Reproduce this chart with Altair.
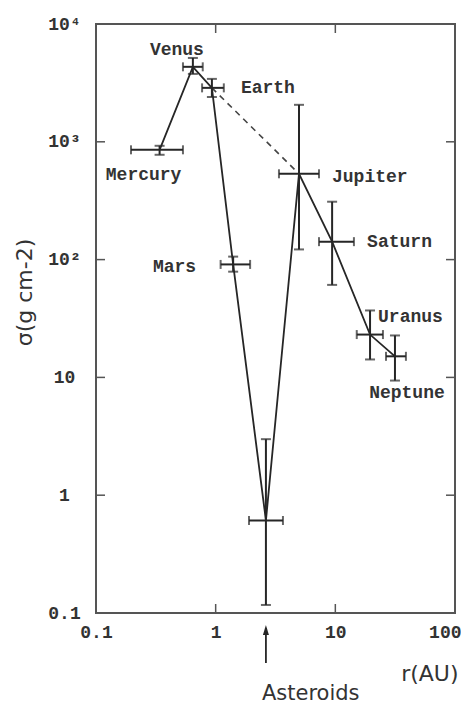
import altair as alt
import pandas as pd

# ---- data ----
NAMES = ["Mercury", "Venus", "Earth", "Mars", "Asteroids", "Jupiter", "Saturn", "Uranus", "Neptune"]
R = [0.34, 0.645, 0.93, 1.4, 2.63, 4.97, 9.4, 19.5, 31.5]
R_LO = [0.196, 0.533, 0.77, 1.1, 1.9, 3.38, 7.3, 15.1, 26.5]
R_HI = [0.533, 0.78, 1.17, 1.94, 3.65, 7.3, 14.3, 25.0, 38.9]
SIGMA = [855, 4330, 2870, 91, 0.61, 535, 142, 23.1, 15.1]
S_LO = [776, 3770, 2400, 79, 0.117, 122, 61, 14.2, 9.4]
S_HI = [925, 5150, 3420, 106, 2.99, 2060, 310, 37, 22.7]
DASHED = ["Earth", "Jupiter"]
X_TICKS = [0.1, 1, 10, 100]
Y_TICKS = [0.1, 1, 10, 100, 1000, 10000]
X_INNER = [1, 10]
Y_INNER = [1, 10, 100, 1000]

# ---- styles ----
W, H = 359, 589
INK = "#262626"
TXT = "#333333"
FR = "#555555"
MONO = "Liberation Mono"
SANS = "DejaVu Sans"
LABEL_STYLE = {
    "Mercury": (-16, 25, "center"),
    "Venus": (-16, -17, "center"),
    "Earth": (29, 0, "left"),
    "Mars": (-37, 3, "right"),
    "Jupiter": (33, 3, "left"),
    "Saturn": (35, 0, "left"),
    "Uranus": (8, -18, "left"),
    "Neptune": (12, 37, "center"),
}

df = pd.DataFrame({"name": NAMES, "r": R, "r_lo": R_LO, "r_hi": R_HI,
                   "sigma": SIGMA, "s_lo": S_LO, "s_hi": S_HI})
xs = alt.Scale(type="log", domain=[0.1, 100], nice=False)
ys = alt.Scale(type="log", domain=[0.1, 10000], nice=False)

y_label_expr = ("datum.value == 10000 ? '10⁴' : datum.value == 1000 ? '10³' : "
                "datum.value == 100 ? '10²' : datum.value == 10 ? '10' : "
                "datum.value == 1 ? '1' : '0.1'")

XAX = alt.Axis(
    values=X_TICKS, format="~g", ticks=False, domain=False, grid=False,
    labelFont=MONO, labelFontSize=18, labelFontWeight="bold", labelColor=TXT,
    labelPadding=10, labelFlush=False,
    labelAlign={"condition": {"test": "datum.value >= 100", "value": "right"}, "value": "center"},
    labelOffset={"condition": {"test": "datum.value >= 100", "value": 6}, "value": 0},
    title="r(AU)", titleFont=SANS, titleFontSize=22, titleFontWeight="normal",
    titleColor=TXT, titleX=362, titleY=60, titleAlign="right", titleBaseline="middle")
YAX = alt.Axis(
    values=Y_TICKS, labelExpr=y_label_expr, ticks=False, domain=False, grid=False,
    labelFont=MONO, labelFontSize=18, labelFontWeight="bold", labelColor=TXT,
    labelPadding=32, labelAlign="center", labelBaseline="middle", labelFlush=False,
    title="σ(g cm-2)", titleFont=SANS, titleFontSize=22, titleFontWeight="normal",
    titleColor=TXT, titleAngle=270, titleX=-72, titleY=268,
    titleAlign="center", titleBaseline="middle")


def X(field):
    return alt.X(field, scale=xs, axis=XAX)


def Y(field):
    return alt.Y(field, scale=ys, axis=YAX)


base = alt.Chart(df)

line = base.mark_line(color=INK, strokeWidth=1.8).encode(
    x=X("r:Q"), y=Y("sigma:Q"), order="r:Q")

dashed = base.transform_filter(
    alt.FieldOneOfPredicate(field="name", oneOf=DASHED)
).mark_line(color="#444444", strokeWidth=1.6, strokeDash=[6, 5]).encode(
    x=X("r:Q"), y=Y("sigma:Q"))

hbar = base.mark_rule(color=INK, strokeWidth=2).encode(
    x=X("r_lo:Q"), x2="r_hi:Q", y=Y("sigma:Q"))
vbar = base.mark_rule(color=INK, strokeWidth=2).encode(
    y=Y("s_lo:Q"), y2="s_hi:Q", x=X("r:Q"))

hcap_lo = base.mark_tick(orient="vertical", size=9, thickness=2, color=INK).encode(
    x=X("r_lo:Q"), y=Y("sigma:Q"))
hcap_hi = base.mark_tick(orient="vertical", size=9, thickness=2, color=INK).encode(
    x=X("r_hi:Q"), y=Y("sigma:Q"))
vcap_lo = base.mark_tick(orient="horizontal", size=10, thickness=2, color=INK).encode(
    x=X("r:Q"), y=Y("s_lo:Q"))
vcap_hi = base.mark_tick(orient="horizontal", size=10, thickness=2, color=INK).encode(
    x=X("r:Q"), y=Y("s_hi:Q"))

labels = []
for nm, (dx, dy, al) in LABEL_STYLE.items():
    labels.append(
        base.transform_filter(alt.datum.name == nm).mark_text(
            font=MONO, fontSize=18, fontWeight="bold", color=TXT,
            dx=dx, dy=dy, align=al, baseline="middle").encode(
            x=X("r:Q"), y=Y("sigma:Q"), text="name:N"))

# inward frame ticks
xin = alt.Chart(pd.DataFrame({"r": X_INNER}))
yin = alt.Chart(pd.DataFrame({"sigma": Y_INNER}))
t_bottom = xin.mark_rule(color=FR, strokeWidth=1.5).encode(
    x=X("r:Q"), y=alt.value(H), y2=alt.value(H - 9))
t_top = xin.mark_rule(color=FR, strokeWidth=1.5).encode(
    x=X("r:Q"), y=alt.value(0), y2=alt.value(9))
t_left = yin.mark_rule(color=FR, strokeWidth=1.5).encode(
    y=Y("sigma:Q"), x=alt.value(0), x2=alt.value(9))
t_right = yin.mark_rule(color=FR, strokeWidth=1.5).encode(
    y=Y("sigma:Q"), x=alt.value(W - 9), x2=alt.value(W))

# asteroid arrow & caption below the axis
ast = base.transform_filter(alt.datum.name == "Asteroids")
arrow_shaft = ast.mark_rule(color=INK, strokeWidth=1.8, clip=False).encode(
    x=X("r:Q"), y=alt.value(H + 15), y2=alt.value(H + 50))
arrow_head = ast.mark_point(shape="M0,-1L0.6,1L-0.6,1Z", size=100, filled=True,
                            color=INK, opacity=1, clip=False).encode(
    x=X("r:Q"), y=alt.value(H + 17))
ast_text = ast.mark_text(font=SANS, fontSize=21, color=TXT, align="left",
                         baseline="middle", dx=-4, clip=False).encode(
    x=X("r:Q"), y=alt.value(H + 81), text="name:N")

chart = alt.layer(
    line, dashed, hbar, vbar, hcap_lo, hcap_hi, vcap_lo, vcap_hi,
    t_bottom, t_top, t_left, t_right, arrow_shaft, arrow_head, ast_text, *labels
).properties(
    width=W, height=H,
    background="white",
    autosize=alt.AutoSizeParams(type="none"),
    padding={"left": 88, "top": 16, "right": 6, "bottom": 92},
).configure_view(stroke=FR, strokeWidth=2)

chart.save("out.html", embed_options={"renderer": "svg", "actions": False})
